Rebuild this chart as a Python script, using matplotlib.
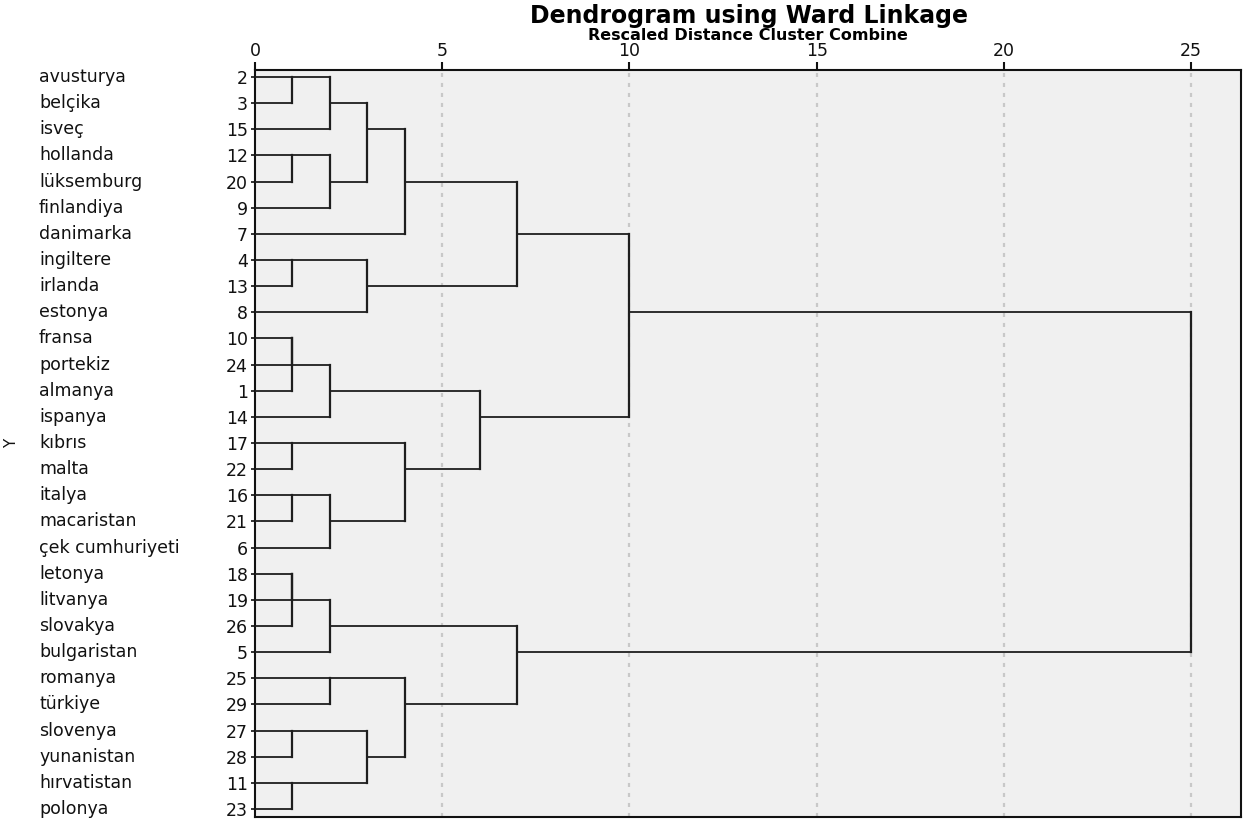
"""
plot.py -- SPSS-style dendrogram (Ward linkage, rescaled distance 0..25).
Draws the tree from the agglomeration list below; node rows snap to
floor(midpoint) the way SPSS does it.
"""
import matplotlib
matplotlib.use("Agg")
import matplotlib.pyplot as plt
from matplotlib import transforms

# leaf order top -> bottom, with the case numbers shown next to the axis
countries = ["avusturya", "belçika", "isveç", "hollanda", "lüksemburg", "finlandiya",
             "danimarka", "ingiltere", "irlanda", "estonya", "fransa", "portekiz",
             "almanya", "ispanya", "kıbrıs", "malta", "italya", "macaristan",
             "çek cumhuriyeti", "letonya", "litvanya", "slovakya", "bulgaristan",
             "romanya", "türkiye", "slovenya", "yunanistan", "hırvatistan", "polonya"]
case_ids = [2, 3, 15, 12, 20, 9, 7, 4, 13, 8, 10, 24, 1, 14, 17, 22, 16, 21, 6,
            18, 19, 26, 5, 25, 29, 27, 28, 11, 23]

# merges: node ids 0..28 are leaves (rows), merge k creates node 29+k
merge_a = [0, 3, 7, 10, 32, 14, 16, 19, 36, 25, 27, 29, 30, 33, 35, 37, 23,
           40, 31, 38, 46, 34, 45, 42, 49, 44, 53, 55]
merge_b = [1, 4, 8, 11, 12, 15, 17, 20, 21, 26, 28, 2, 5, 13, 18, 22, 24,
           41, 9, 39, 6, 43, 48, 50, 47, 51, 52, 54]
merge_dist = [1, 1, 1, 1, 1, 1, 1, 1, 1, 1, 1, 2, 2, 2, 2, 2, 2,
              3, 3, 3, 4, 4, 4, 6, 7, 7, 10, 25]

x_ticks = [0, 5, 10, 15, 20, 25]

W, H = 1243, 821
fig = plt.figure(figsize=(W / 100, H / 100), dpi=100)
ax = fig.add_axes([255 / W, 1 - 817 / H, (1241 - 255) / W, (817 - 70) / H])
ax.set_facecolor("#f0f0f0")
plt.rcParams["lines.scale_dashes"] = False

n = len(countries)
ax.set_xlim(0, 26.33)
ax.set_ylim(n - 1 + 0.306, -0.268)

# dotted grid
for t in x_ticks[1:]:
    ax.axvline(t, color="#c8c8c8", lw=1.6, linestyle=(0, (2.9, 4.3)), zorder=1)

# tree
pos = list(range(n))
hgt = [0.0] * n
lc = "#1e1e1e"
for a, b, d in zip(merge_a, merge_b, merge_dist):
    ya, yb = pos[a], pos[b]
    ax.plot([hgt[a], d], [ya, ya], color=lc, lw=1.3, zorder=3, solid_capstyle="butt")
    ax.plot([hgt[b], d], [yb, yb], color=lc, lw=1.3, zorder=3, solid_capstyle="butt")
    ax.plot([d, d], [ya, yb], color=lc, lw=1.6, zorder=3, solid_capstyle="projecting")
    pos.append((ya + yb) // 2)
    hgt.append(d)

for s in ax.spines.values():
    s.set_linewidth(1.5)
    s.set_color("#111111")

ax.xaxis.tick_top()
ax.set_xticks(x_ticks)
ax.set_xticklabels([str(t) for t in x_ticks])
ax.tick_params(axis="x", direction="out", length=6, width=1.5, pad=1,
               labelsize=12.5, colors="#111111")
ax.set_yticks(range(n))
ax.set_yticklabels([str(c) for c in case_ids])
ax.tick_params(axis="y", direction="out", length=3, width=1.2, pad=2,
               labelsize=12.5, colors="#111111")

tr = transforms.blended_transform_factory(fig.transFigure, ax.transData)
for i, name in enumerate(countries):
    ax.text(39 / W, i, name, transform=tr, ha="left", va="center",
            fontsize=12.5, color="#111111")

fig.text(12 / W, 0.5 * ((1 - 817 / H) + (1 - 70 / H)), "Y", rotation=90,
         ha="center", va="center", fontsize=11, color="#111111")
fig.text(749 / W, 1 - 16 / H, "Dendrogram using Ward Linkage", ha="center",
         va="center", fontsize=17, fontweight="bold")
fig.text(748 / W, 1 - 36 / H, "Rescaled Distance Cluster Combine", ha="center",
         va="center", fontsize=11.5, fontweight="bold")

fig.savefig("out.png", dpi=100)
